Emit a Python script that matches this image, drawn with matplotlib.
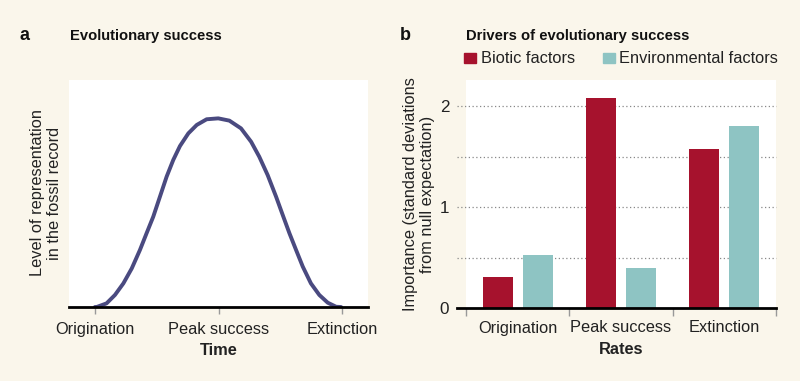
import numpy as np
import matplotlib
matplotlib.use("Agg")
import matplotlib.pyplot as plt

plt.rcParams['font.family'] = ['Liberation Sans', 'DejaVu Sans']

# panel a: curve (0 = origination, 1 = extinction)
curve_x = [0.0, 0.007, 0.047, 0.081, 0.115, 0.149, 0.182, 0.209, 0.236, 0.263,
           0.290, 0.317, 0.344, 0.378, 0.412, 0.452, 0.499, 0.544, 0.591, 0.632,
           0.665, 0.699, 0.733, 0.760, 0.787, 0.814, 0.841, 0.874, 0.908, 0.942,
           0.976, 0.996]
curve_y = [0.0, 0.0, 0.016, 0.053, 0.104, 0.170, 0.251, 0.325, 0.398, 0.486,
           0.574, 0.648, 0.709, 0.765, 0.802, 0.827, 0.831, 0.821, 0.787, 0.728,
           0.662, 0.581, 0.486, 0.405, 0.325, 0.251, 0.178, 0.104, 0.053, 0.019,
           0.001, 0.0]
time_labels = ["Origination", "Peak success", "Extinction"]

# panel b
rates = ["Origination", "Peak success", "Extinction"]
biotic = [0.31, 2.08, 1.58]
environmental = [0.53, 0.40, 1.80]

BG = "#faf6eb"
RED = "#a6122d"
TEAL = "#8ec4c3"
LINE = "#4a4a80"
TXT = "#222222"
W, H = 800, 381
FS = 11.8

fig = plt.figure(figsize=(W / 100, H / 100), dpi=100, facecolor=BG)

def px_axes(x0, y0, x1, y1):
    return fig.add_axes([x0 / W, 1 - y1 / H, (x1 - x0) / W, (y1 - y0) / H])

def px_text(x, y, s, **kw):
    fig.text(x / W, 1 - y / H, s, **kw)

# ---- panel a ----
ax_a = px_axes(69, 80, 368, 307)
ax_a.plot(curve_x, curve_y, color=LINE, lw=2.8, solid_joinstyle='round',
          solid_capstyle='round')
ax_a.set_xlim(-0.105, 1.105)
ax_a.set_ylim(0, 1)
for s in ['top', 'right', 'left']:
    ax_a.spines[s].set_visible(False)
ax_a.spines['bottom'].set_linewidth(2)
ax_a.set_yticks([])
ax_a.set_xticks([0, 0.5, 1])
ax_a.set_xticklabels(time_labels, fontsize=FS, color=TXT)
ax_a.tick_params(axis='x', length=5, color='#999', width=1, pad=6)
ax_a.set_xlabel("Time", fontsize=FS, fontweight='bold', labelpad=4, color=TXT)
px_text(46, 193, "Level of representation\nin the fossil record", fontsize=FS,
        color=TXT, rotation=90, ha='center', va='center', linespacing=1.15)

# ---- panel b ----
ax_b = px_axes(466, 80, 776, 308)
xpos = np.arange(len(rates))
ax_b.bar(xpos - 0.193, biotic, width=0.29, color=RED, zorder=3)
ax_b.bar(xpos + 0.193, environmental, width=0.29, color=TEAL, zorder=3)
ax_b.set_xlim(-0.5, 2.5)
ax_b.set_ylim(0, 2.26)
for s in ax_b.spines.values():
    s.set_visible(False)
for yv in [0.5, 1, 1.5, 2]:
    ax_b.axhline(yv, xmin=-0.03, xmax=1, color='#888', lw=0.9, ls=(0, (1, 2)),
                 clip_on=False, zorder=1)
ax_b.axhline(0, xmin=-0.03, xmax=1, color='black', lw=2, clip_on=False, zorder=4)
ax_b.set_yticks([0, 1, 2])
ax_b.set_yticklabels(['0', '1', '2'], fontsize=FS + 0.5, color=TXT)
ax_b.tick_params(axis='y', length=0, pad=12)
ax_b.set_xticks([-0.5, 0.5, 1.5, 2.5])
ax_b.set_xticklabels([])
ax_b.tick_params(axis='x', which='major', length=6, color='#999', width=1)
ax_b.set_xticks(xpos, minor=True)
ax_b.set_xticklabels(rates, minor=True, fontsize=FS, color=TXT)
ax_b.tick_params(axis='x', which='minor', length=0, pad=9)
ax_b.set_xlabel("Rates", fontsize=FS, fontweight='bold', labelpad=5, color=TXT)
px_text(419, 194, "Importance (standard deviations\nfrom null expectation)", fontsize=FS,
        color=TXT, rotation=90, ha='center', va='center', linespacing=1.15)

# ---- titles and legend ----
px_text(20, 40, "a", fontsize=13, fontweight='bold', color='#111')
px_text(70, 40, "Evolutionary success", fontsize=10.6, fontweight='bold', color='#111')
px_text(400, 40, "b", fontsize=13, fontweight='bold', color='#111')
px_text(466, 40, "Drivers of evolutionary success", fontsize=10.6, fontweight='bold', color='#111')

fig.patches.append(plt.Rectangle((464 / W, 1 - 63 / H), 12 / W, 10 / H,
                                 transform=fig.transFigure, color=RED))
px_text(481, 63, "Biotic factors", fontsize=FS, color=TXT)
fig.patches.append(plt.Rectangle((603 / W, 1 - 63 / H), 12 / W, 10 / H,
                                 transform=fig.transFigure, color=TEAL))
px_text(619, 63, "Environmental factors", fontsize=FS, color=TXT)

fig.savefig("out.png", dpi=100, facecolor=BG)
